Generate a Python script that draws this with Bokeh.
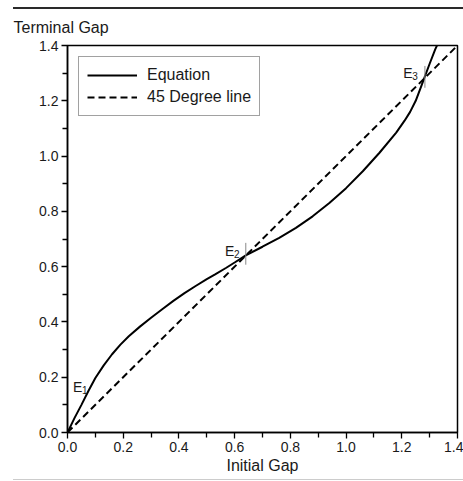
from bokeh.plotting import figure
from bokeh.layouts import column
from bokeh.models import (Range1d, FixedTicker, NumeralTickFormatter, Title,
                          Legend, LegendItem, Div)
from bokeh.core.properties import value
from bokeh.embed import file_html
from bokeh.resources import INLINE

# Equation curve: terminal gap as a function of initial gap
initial_gap = [0.0, 0.025, 0.05, 0.075, 0.10, 0.13, 0.16, 0.19, 0.22, 0.26, 0.30, 0.34,
               0.38, 0.42, 0.46, 0.50, 0.53, 0.57, 0.60, 0.64, 0.70, 0.76, 0.82, 0.88,
               0.94, 1.00, 1.06, 1.12, 1.18, 1.21, 1.23, 1.25, 1.27, 1.28, 1.30, 1.32, 1.34]
terminal_gap = [0.0, 0.052, 0.10, 0.15, 0.197, 0.243, 0.283, 0.318, 0.348, 0.383, 0.415, 0.446,
                0.476, 0.504, 0.530, 0.555, 0.572, 0.596, 0.615, 0.641, 0.672, 0.704, 0.740, 0.782,
                0.830, 0.884, 0.945, 1.012, 1.085, 1.128, 1.160, 1.200, 1.253, 1.28, 1.334, 1.386, 1.43]

# 45 degree reference line
diag_x = [0.0, 1.4]
diag_y = [0.0, 1.4]

# Equilibrium points
eq_names = ["1", "2", "3"]
eq_x = [0.0, 0.64, 1.283]
eq_y = [0.0, 0.64, 1.28]

# Axis ticks
major_ticks = [0.0, 0.2, 0.4, 0.6, 0.8, 1.0, 1.2, 1.4]
minor_ticks = [0.1, 0.3, 0.5, 0.7, 0.9, 1.1, 1.3]

FONT = "Liberation Sans"
INK = "#1a1a1a"

p = figure(width=463, height=470, output_backend="svg", toolbar_location=None,
           x_range=Range1d(0, 1.4), y_range=Range1d(0, 1.4),
           min_border_left=67, min_border_right=6, min_border_top=36, min_border_bottom=47)
p.background_fill_color = "white"
p.border_fill_color = "white"
p.grid.visible = False
p.outline_line_color = "black"
p.outline_line_width = 1.5
p.outline_line_alpha = 1

for ax in (p.xaxis[0], p.yaxis[0]):
    ax.ticker = FixedTicker(ticks=major_ticks, minor_ticks=minor_ticks)
    ax.formatter = NumeralTickFormatter(format="0.0")
    ax.axis_line_color = "black"
    ax.axis_line_width = 1.5
    ax.major_tick_line_color = "black"
    ax.major_tick_line_width = 1.3
    ax.minor_tick_line_color = "black"
    ax.minor_tick_line_width = 1.3
    ax.major_tick_out = 6
    ax.major_tick_in = 0
    ax.minor_tick_out = 5
    ax.minor_tick_in = 0
    ax.major_label_text_font = FONT
    ax.major_label_text_font_size = "14px"
    ax.major_label_text_color = INK
    ax.major_label_standoff = 3

p.xaxis.axis_label = "Initial Gap"
p.xaxis.axis_label_text_font = FONT
p.xaxis.axis_label_text_font_size = "16px"
p.xaxis.axis_label_text_font_style = "normal"
p.xaxis.axis_label_text_color = INK
p.xaxis.axis_label_standoff = 2

# y-axis caption written horizontally above the axis
p.add_layout(Title(text="Terminal Gap", align="left", offset=-54, vertical_align="top",
                   text_font=FONT, text_font_size="16px", text_font_style="normal",
                   text_color=INK, standoff=16), "above")

r_eq = p.line(initial_gap, terminal_gap, line_color="black", line_width=2)
r_diag = p.line(diag_x, diag_y, line_color="black", line_width=2, line_dash="7 4")

# small vertical marks at the interior equilibria
p.segment(x0=eq_x[1:], y0=[v - 0.033 for v in eq_y[1:]],
          x1=eq_x[1:], y1=[v + 0.046 for v in eq_y[1:]],
          line_color="#888888", line_width=1)

# E labels with subscripts
lab_x = [0.02, 0.565, 1.205]
lab_y = [0.163, 0.655, 1.302]
for n, lx, ly in zip(eq_names, lab_x, lab_y):
    p.text(x=[lx], y=[ly], text=["E"], text_font=value(FONT), text_font_size="14px",
           text_color=INK, text_baseline="alphabetic", text_align="left")
    p.text(x=[lx], y=[ly], text=[n], text_font=value(FONT), text_font_size="10px",
           text_color=INK, text_baseline="alphabetic", text_align="left",
           x_offset=9, y_offset=3)

legend = Legend(items=[LegendItem(label="Equation", renderers=[r_eq]),
                       LegendItem(label="45 Degree line", renderers=[r_diag])],
                location="top_left")
legend.margin = 11
legend.padding = 8
legend.spacing = 2
legend.glyph_width = 50
legend.glyph_height = 20
legend.label_standoff = 10
legend.label_text_font = FONT
legend.label_text_font_size = "16px"
legend.label_text_color = INK
legend.border_line_color = "#444444"
legend.border_line_width = 1
legend.background_fill_alpha = 1
p.add_layout(legend, "center")

# page rules above and below the chart
top_rule = Div(text="", width=450, height=2, margin=(7, 0, 0, 13),
               styles={"background-color": "#2a2a2a"})
bottom_rule = Div(text="", width=450, height=1, margin=(0, 0, 0, 13),
                  styles={"background-color": "#cccccc"})

layout = column(top_rule, p, bottom_rule, spacing=0)
open("out.html", "w").write(file_html(layout, INLINE))
